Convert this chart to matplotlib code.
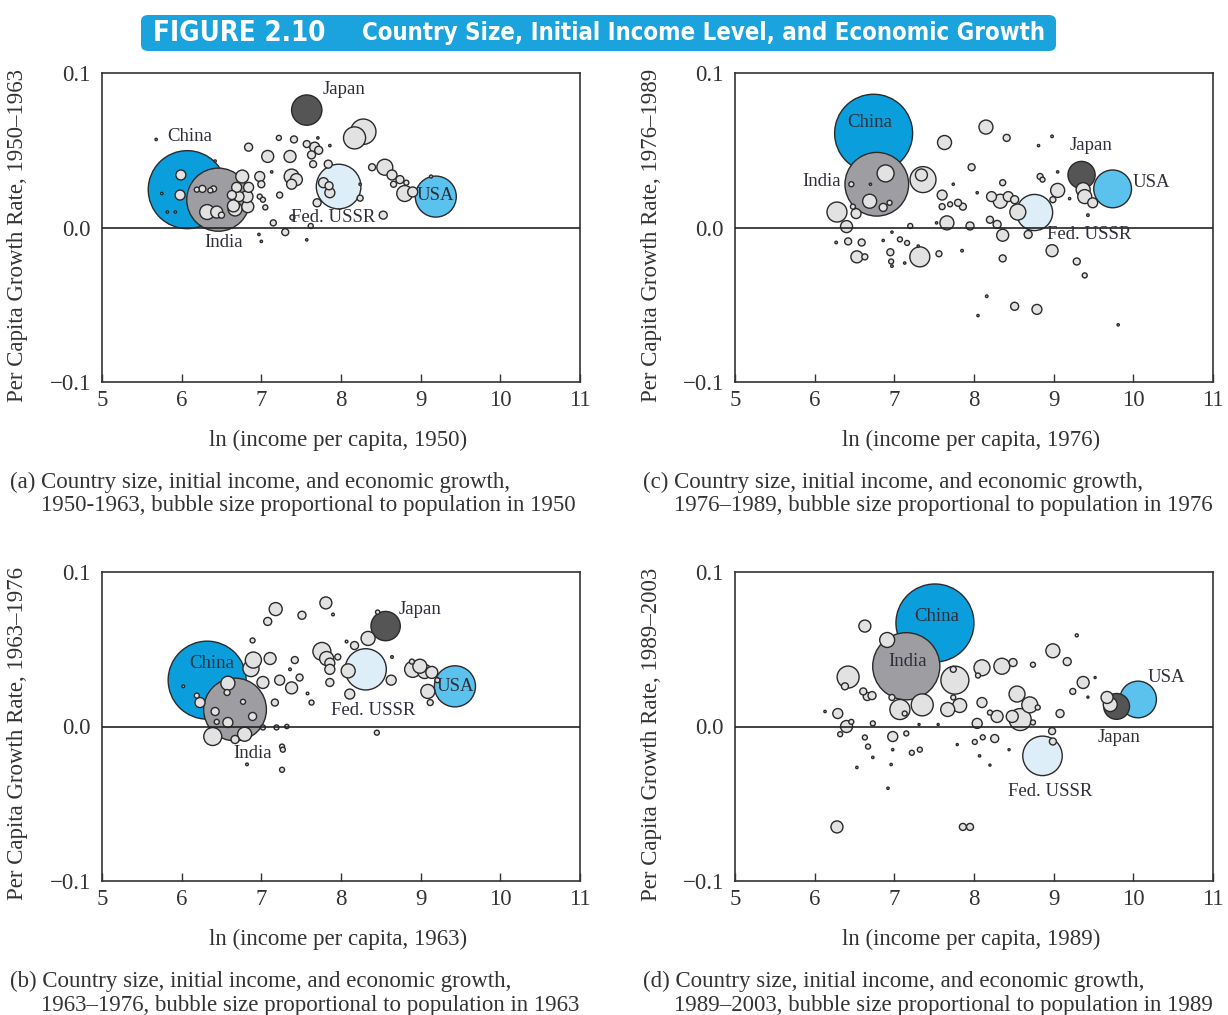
import matplotlib
matplotlib.use("Agg")
import matplotlib.pyplot as plt
from matplotlib.patches import FancyBboxPatch
import numpy as np

plt.rcParams['font.family'] = ['Liberation Serif', 'DejaVu Serif']

# ---- highlighted countries (x = ln income, y = growth rate, pop in millions) ----
names = ['China', 'India', 'Japan', 'USA', 'Fed. USSR']
colors = ['#0a9fdc', '#9d9da2', '#555555', '#5bc2ee', '#ddeef8']

a_key_x = [6.07, 6.46, 7.57, 9.19, 7.97]
a_key_y = [0.0245, 0.018, 0.076, 0.020, 0.0265]
a_key_pop = [550, 360, 83, 152, 180]

b_key_x = [6.32, 6.67, 8.56, 9.43, 8.31]
b_key_y = [0.030, 0.011, 0.065, 0.026, 0.037]
b_key_pop = [680, 440, 96, 189, 190]

c_key_x = [6.74, 6.78, 9.35, 9.74, 8.76]
c_key_y = [0.061, 0.028, 0.034, 0.025, 0.0097]
c_key_pop = [930, 620, 113, 218, 200]

d_key_x = [7.51, 7.15, 9.79, 10.06, 8.86]
d_key_y = [0.067, 0.039, 0.013, 0.0175, -0.019]
d_key_pop = [1120, 830, 123, 247, 287]

# ---- label positions for the highlighted countries ----
a_lab_x = [6.10, 6.53, 8.04, 9.19, 7.90]
a_lab_y = [0.059, -0.010, 0.089, 0.021, 0.0065]
b_lab_x = [6.38, 6.89, 8.99, 9.43, 8.40]
b_lab_y = [0.041, -0.0175, 0.076, 0.026, 0.0104]
c_lab_x = [6.69, 6.09, 9.47, 10.22, 9.45]
c_lab_y = [0.068, 0.030, 0.053, 0.029, -0.0045]
d_lab_x = [7.53, 7.17, 9.82, 10.42, 8.96]
d_lab_y = [0.071, 0.042, -0.0071, 0.0317, -0.042]

# ---- other countries, 1950 ----
a_x = [5.68, 8.17, 8.28, 6.84, 7.22, 7.41, 7.57, 7.71, 7.67, 7.72, 7.08, 7.36, 7.63,
       7.65, 7.84, 7.38, 7.44, 7.38, 7.78, 7.86, 7.85, 7.70, 7.23, 6.98, 7.00, 7.13,
       6.76, 6.69, 6.84, 6.82, 6.83, 6.72, 6.63, 6.65, 6.98, 7.02, 7.05, 7.15, 7.30,
       7.39, 7.62, 7.57, 6.97, 7.00, 8.53, 8.39, 8.55, 8.64, 8.66, 8.74, 8.82, 8.80,
       8.90, 9.13, 8.24, 8.24, 7.86, 6.42, 5.99, 5.98, 5.75, 5.82, 5.92, 6.26, 6.36,
       6.40, 6.32, 6.44, 6.50, 6.67, 6.19]
a_y = [0.057, 0.058, 0.062, 0.052, 0.058, 0.057, 0.054, 0.058, 0.052, 0.050, 0.046,
       0.046, 0.047, 0.041, 0.041, 0.033, 0.031, 0.028, 0.029, 0.0225, 0.027, 0.016,
       0.021, 0.033, 0.028, 0.036, 0.033, 0.026, 0.026, 0.020, 0.0135, 0.020, 0.021,
       0.014, 0.020, 0.018, 0.013, 0.003, -0.003, 0.0065, 0.001, -0.008, -0.0045,
       -0.009, 0.008, 0.039, 0.039, 0.034, 0.028, 0.031, 0.029, 0.022, 0.023, 0.033,
       0.028, 0.019, 0.053, 0.043, 0.034, 0.021, 0.022, 0.010, 0.010, 0.025, 0.024,
       0.025, 0.010, 0.010, 0.008, 0.012, 0.0245]
a_pop = [0.5, 44, 58, 5.8, 2.3, 4.4, 4.4, 0.5, 9, 5.8, 13, 13, 5.8, 4.4, 5.8, 20, 13,
         9, 9, 9, 5.8, 5.8, 3.3, 9, 4.4, 0.5, 15, 9, 9, 13, 13, 9, 7.3, 13, 2.3, 2.3,
         2.3, 3.3, 4.4, 2.3, 2.3, 0.5, 0.5, 0.5, 5.8, 4.4, 23, 9, 3.3, 5.8, 2.3, 23, 9,
         0.8, 0.5, 3.3, 0.5, 0.5, 9, 9, 0.5, 0.5, 0.5, 4.4, 2.3, 3.3, 20, 13, 3.3,
         17.7, 2.3]

# ---- other countries, 1963 ----
b_x = [7.18, 7.51, 7.81, 7.90, 7.08, 6.89, 8.46, 8.34, 8.17, 8.07, 7.76, 7.82, 7.86,
       7.96, 7.86, 7.11, 6.90, 6.87, 7.02, 7.23, 7.38, 7.42, 7.48, 7.17, 7.63, 7.58,
       7.86, 8.11, 8.09, 8.63, 8.64, 8.90, 8.99, 9.05, 9.14, 9.09, 9.12, 9.21, 8.89,
       8.45, 6.58, 6.57, 6.23, 6.19, 6.42, 6.44, 6.77, 6.89, 6.58, 6.39, 6.67, 6.79,
       7.02, 7.19, 7.26, 7.27, 7.26, 6.82, 6.02, 7.32, 7.36]
b_y = [0.076, 0.072, 0.080, 0.0725, 0.068, 0.0557, 0.074, 0.057, 0.0524, 0.055,
       0.0486, 0.044, 0.041, 0.045, 0.037, 0.044, 0.043, 0.0375, 0.0285, 0.030, 0.025,
       0.043, 0.0317, 0.0155, 0.0155, 0.0214, 0.0285, 0.021, 0.036, 0.030, 0.045,
       0.037, 0.039, 0.0356, 0.035, 0.0227, 0.0155, 0.030, 0.042, -0.004, 0.028,
       0.022, 0.0155, 0.020, 0.0097, 0.003, 0.016, 0.0065, 0.0026, -0.0065, -0.0084,
       -0.005, -0.0006, -0.0006, -0.013, -0.015, -0.028, -0.0245, 0.026, 0.0, 0.037]
b_pop = [19, 7.2, 16, 0.8, 7.2, 2.8, 2.0, 22, 7.2, 0.8, 36, 22, 11.2, 4.0, 11.2, 16,
         29, 29, 16, 11.2, 16, 5.5, 5.5, 5.5, 2.8, 0.8, 7.2, 11.2, 22, 11.2, 0.8, 29,
         22, 22, 16, 22, 4.0, 2.8, 2.8, 2.8, 22, 4.0, 11.2, 2.8, 7.2, 2.8, 2.8, 7.2,
         11.2, 36, 7.2, 22, 2.8, 2.8, 2.8, 2.8, 2.8, 0.8, 0.8, 2.0, 0.8]

# ---- other countries, 1976 ----
c_x = [8.15, 8.41, 7.63, 8.98, 8.81, 7.97, 7.36, 7.34, 6.89, 6.69, 6.86, 6.94, 6.46,
       6.28, 6.40, 6.52, 6.48, 6.42, 6.59, 6.27, 6.53, 6.63, 6.95, 6.96, 6.97, 6.86,
       6.97, 7.07, 7.16, 7.20, 7.32, 7.30, 7.13, 7.56, 7.85, 7.60, 7.60, 7.66, 7.53,
       7.80, 7.86, 7.70, 7.74, 7.95, 8.04, 8.22, 8.33, 8.36, 8.20, 8.29, 8.36, 8.43,
       8.51, 8.55, 8.68, 8.36, 8.98, 9.05, 8.99, 8.83, 8.86, 9.20, 9.43, 9.37, 9.39,
       9.49, 9.29, 9.39, 8.16, 8.51, 8.79, 8.05, 9.81, 9.05, 6.70]
c_y = [0.065, 0.058, 0.055, 0.059, 0.053, 0.039, 0.031, 0.034, 0.035, 0.017, 0.013,
       0.016, 0.028, 0.010, 0.0006, 0.009, 0.0135, -0.009, -0.0097, -0.0097, -0.019,
       -0.019, -0.016, -0.022, -0.025, -0.0084, -0.003, -0.0077, -0.010, 0.001, -0.019,
       -0.012, -0.023, -0.017, -0.015, 0.021, 0.0135, 0.003, 0.003, 0.016, 0.0135,
       0.015, 0.028, 0.001, 0.0225, 0.020, 0.017, 0.029, 0.005, 0.002, -0.005, 0.020,
       0.018, 0.010, -0.0045, -0.020, -0.015, 0.024, 0.018, 0.033, 0.031, 0.0187,
       0.008, 0.0245, 0.020, 0.016, -0.022, -0.031, -0.0445, -0.051, -0.053, -0.057,
       -0.063, 0.036, 0.028]
c_pop = [30, 7.5, 30, 1.0, 0.8, 7.5, 103, 22, 44, 30, 9.8, 3.8, 3.8, 61, 22, 15, 3.8,
         7.5, 7.5, 1.0, 22, 5.5, 7.5, 3.8, 1.0, 0.8, 0.8, 3.8, 3.8, 3.8, 61, 0.8, 0.8,
         5.5, 1.0, 15, 5.5, 30, 0.8, 7.5, 7.5, 3.8, 0.8, 9.8, 0.8, 15, 30, 5.5, 7.5,
         9.8, 22, 15, 9.8, 39, 9.8, 7.5, 22, 30, 5.5, 5.5, 3.8, 0.8, 1.0, 30, 30, 15,
         7.5, 3.8, 1.0, 9.8, 15, 0.8, 0.8, 0.8, 0.8]

# ---- other countries, 1989 ----
d_x = [6.63, 6.91, 9.29, 8.99, 9.17, 8.74, 8.10, 8.35, 8.49, 6.42, 6.38, 7.76, 7.74,
       8.05, 9.37, 9.24, 9.52, 6.61, 6.66, 6.72, 6.97, 7.07, 7.35, 7.13, 7.67, 7.82,
       7.74, 8.10, 8.29, 8.20, 8.54, 8.70, 8.58, 8.48, 8.80, 9.08, 8.98, 8.99, 9.67,
       9.71, 9.43, 6.29, 6.40, 6.46, 6.13, 6.32, 6.73, 6.98, 7.15, 6.63, 6.67, 6.73,
       7.22, 7.32, 6.98, 6.96, 6.53, 6.92, 7.31, 7.55, 8.04, 8.01, 8.11, 8.26, 7.79,
       8.07, 8.20, 8.44, 6.28, 7.86, 7.95, 8.74]
d_y = [0.065, 0.056, 0.059, 0.049, 0.042, 0.040, 0.038, 0.039, 0.0414, 0.032, 0.026,
       0.030, 0.037, 0.033, 0.0285, 0.0227, 0.0317, 0.0227, 0.0194, 0.020, 0.0188,
       0.011, 0.014, 0.0084, 0.011, 0.0136, 0.0188, 0.0155, 0.0065, 0.009, 0.021,
       0.014, 0.0045, 0.0065, 0.0123, 0.0084, -0.003, -0.0097, 0.0188, 0.0142, 0.019,
       0.0084, 0.0, 0.003, 0.0097, -0.005, 0.002, -0.0065, -0.0045, -0.0071, -0.013,
       -0.020, -0.017, -0.015, -0.015, -0.0246, -0.0265, -0.040, 0.0013, 0.0013,
       0.002, -0.010, -0.007, -0.0078, -0.0117, -0.019, -0.025, -0.015, -0.065,
       -0.065, -0.065, 0.0026]
d_pop = [26.5, 41, 1.7, 36, 11.8, 4.6, 47, 47, 11.8, 89, 9, 144, 6.6, 4.6, 26.5, 6.6,
         0.8, 9, 11.8, 11.8, 6.6, 74, 89, 4.6, 36, 36, 4.6, 18.4, 26.5, 4.6, 47, 47, 89,
         26.5, 4.6, 11.8, 9, 9, 26.5, 36, 0.8, 18.4, 26.5, 4.6, 1.0, 4.6, 4.6, 18.4,
         4.6, 4.6, 4.6, 1.0, 4.6, 4.6, 1.0, 1.0, 1.0, 1.0, 0.8, 0.8, 18.4, 4.6, 4.6,
         11.8, 0.8, 1.0, 0.8, 0.8, 26.5, 9, 9, 4.6]

ylabels = ['Per Capita Growth Rate, 1950–1963', 'Per Capita Growth Rate, 1963–1976',
           'Per Capita Growth Rate, 1976–1989', 'Per Capita Growth Rate, 1989–2003']
xlabels = ['ln (income per capita, 1950)', 'ln (income per capita, 1963)',
           'ln (income per capita, 1976)', 'ln (income per capita, 1989)']
captions = [('(a) Country size, initial income, and economic growth,',
             '1950-1963, bubble size proportional to population in 1950'),
            ('(b) Country size, initial income, and economic growth,',
             '1963–1976, bubble size proportional to population in 1963'),
            ('(c) Country size, initial income, and economic growth,',
             '1976–1989, bubble size proportional to population in 1976'),
            ('(d) Country size, initial income, and economic growth,',
             '1989–2003, bubble size proportional to population in 1989')]

W, H = 1228, 1015
fig = plt.figure(figsize=(W / 100, H / 100), dpi=100)

MAX_D = 78 * 0.72  # diameter of the biggest bubble in points
GREY = '#e2e2e2'
EDGE = '#2a2a2a'
TXT = '#333333'


def fx(px):
    return px / W


def fy(py):
    return 1 - py / H


def draw_panel(ax, ox, oy, opop, kx, ky, kpop, lx, ly):
    pmax = max(kpop)
    xs = list(ox) + list(kx)
    ys = list(oy) + list(ky)
    ps = list(opop) + list(kpop)
    cs = [GREY] * len(ox) + colors
    order = np.argsort(ps)[::-1]
    s = [MAX_D ** 2 * ps[i] / pmax for i in order]
    ax.scatter([xs[i] for i in order], [ys[i] for i in order], s=s,
               c=[cs[i] for i in order], edgecolors=EDGE, linewidths=1.0, zorder=2)
    ax.axhline(0, color='#222222', lw=1.2, zorder=3)
    for name, tx, ty in zip(names, lx, ly):
        ax.text(tx, ty, name, ha='center', va='center', fontsize=13.5,
                color='#2e2e3a', zorder=4)
    ax.set_xlim(5, 11)
    ax.set_ylim(-0.1, 0.1)
    ax.set_xticks([5, 6, 7, 8, 9, 10, 11])
    ax.set_yticks([-0.1, 0.0, 0.1])
    ax.set_yticklabels(['−0.1', '0.0', '0.1'])
    ax.tick_params(axis='x', direction='in', length=6, width=1, labelsize=16.5,
                   pad=6, colors=TXT)
    ax.tick_params(axis='y', length=0, labelsize=16.5, pad=8, colors=TXT)
    for sp in ax.spines.values():
        sp.set_color(TXT)
        sp.set_linewidth(1.2)


panels = [
    (102, 73, a_x, a_y, a_pop, a_key_x, a_key_y, a_key_pop, a_lab_x, a_lab_y),
    (102, 572, b_x, b_y, b_pop, b_key_x, b_key_y, b_key_pop, b_lab_x, b_lab_y),
    (735, 73, c_x, c_y, c_pop, c_key_x, c_key_y, c_key_pop, c_lab_x, c_lab_y),
    (735, 572, d_x, d_y, d_pop, d_key_x, d_key_y, d_key_pop, d_lab_x, d_lab_y),
]

for k, (left, top, ox, oy, op, kx, ky, kp, lx, ly) in enumerate(panels):
    ax = fig.add_axes([fx(left), fy(top + 309), 478 / W, 309 / H])
    draw_panel(ax, ox, oy, op, kx, ky, kp, lx, ly)
    fig.text(fx(left - 84), fy(top + 162), ylabels[k], rotation=90, ha='center',
             va='center', fontsize=16.5, color=TXT)
    fig.text(fx(left + 236), fy(top + 367), xlabels[k], ha='center', va='center',
             fontsize=16.5, color=TXT)
    fig.text(fx(left - 92), fy(top + 409), captions[k][0], ha='left', va='center',
             fontsize=16.5, color=TXT)
    fig.text(fx(left - 61), fy(top + 433), captions[k][1], ha='left', va='center',
             fontsize=16.5, color=TXT)

# title banner
banner = FancyBboxPatch((fx(141), fy(51)), fx(1056) - fx(141), fy(15) - fy(51),
                        boxstyle='round,pad=0,rounding_size=0.006',
                        transform=fig.transFigure, facecolor='#1ba3dd',
                        edgecolor='none', zorder=0)
fig.patches.append(banner)
banner_font = ['DejaVu Sans', 'Liberation Sans']
t1 = fig.text(fx(153), fy(33), 'FIGURE 2.10', ha='left', va='center', color='white',
              fontsize=21, fontweight='bold', fontstretch='condensed', family=banner_font)
t2 = fig.text(fx(362), fy(33), 'Country Size, Initial Income Level, and Economic Growth',
              ha='left', va='center', color='white', fontsize=21, fontweight='bold',
              fontstretch='condensed', family=banner_font)

# squeeze banner text to the widths seen in the figure
renderer = fig.canvas.get_renderer()
for t, target in [(t1, 172), (t2, 683)]:
    w = t.get_window_extent(renderer).width
    t.set_fontsize(t.get_fontsize() * target / w)

fig.savefig('out.png', dpi=100)
